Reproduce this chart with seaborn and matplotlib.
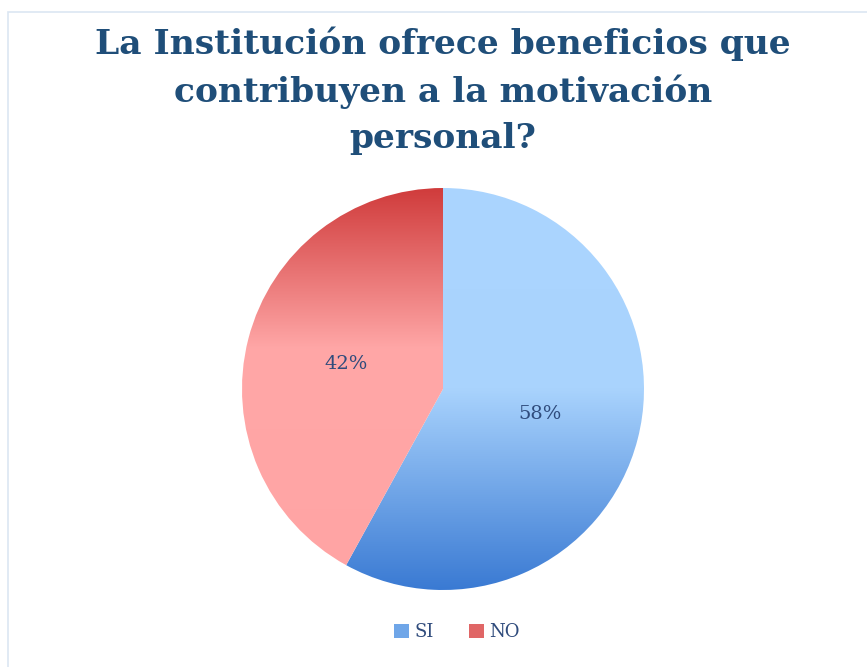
"""
Pie chart: La Institución ofrece beneficios que contribuyen a la motivación personal?
"""

import numpy as np
import matplotlib
matplotlib.use("Agg")
import matplotlib.pyplot as plt
import seaborn as sns
from matplotlib.colors import LinearSegmentedColormap
from matplotlib.patches import Patch, Rectangle

# Data
CATEGORIES = ["SI", "NO"]
VALUES     = [58, 42]

TITLE = "La Institución ofrece beneficios que\ncontribuyen a la motivación\npersonal?"

# Colours
TITLE_COLOR = "#1F4E79"
LABEL_COLOR = "#2F4B7C"
BORDER_COLOR = "#DCE6F2"

# gradient stops, top -> bottom of the pie
SI_STOPS = [(0.0, "#ABD5FF"), (0.50, "#A9D3FD"), (1.0, "#3A7AD3")]
NO_STOPS = [(0.0, "#D03C3C"), (0.40, "#FFA7A7"), (1.0, "#FFA4A4")]
LEGEND_COLORS = ["#6FA6E8", "#E06666"]

sns.set_theme(style="white")
plt.rcParams["font.family"] = ["DejaVu Serif"]

W, H = 867, 667
fig = plt.figure(figsize=(W / 100, H / 100), dpi=100)
fig.patch.set_facecolor("white")

# pie box in pixels: centre (443, 389), radius 201
cx, cy, r = 443, 389, 201
ax = fig.add_axes([(cx - r) / W, (H - cy - r) / H, 2 * r / W, 2 * r / H])

wedges, texts, autotexts = ax.pie(
    VALUES,
    labels=None,
    startangle=90,
    counterclock=False,
    autopct="%1.0f%%",
    pctdistance=0.5,
    radius=1.0,
    wedgeprops=dict(facecolor="none", edgecolor="none"),
    textprops=dict(color=LABEL_COLOR, fontsize=14),
)
ax.set_xlim(-1, 1)
ax.set_ylim(-1, 1)
ax.axis("off")

# vertical gradient fill clipped to each wedge
grad = np.linspace(0, 1, 256).reshape(-1, 1)
for wedge, stops in zip(wedges, [SI_STOPS, NO_STOPS]):
    cmap = LinearSegmentedColormap.from_list("g", stops)
    im = ax.imshow(grad, cmap=cmap, extent=(-1, 1, -1, 1), origin="upper",
                   aspect="auto", zorder=0.5, interpolation="bilinear")
    im.set_clip_path(wedge)
for t in autotexts:
    t.set_zorder(3)

# Title
fig.text(cx / W, 1 - 91 / H, TITLE, ha="center", va="center",
         fontsize=24.8, fontweight="bold", color=TITLE_COLOR,
         family=["DejaVu Serif"], linespacing=1.5)

# Legend
handles = [Patch(facecolor=c, edgecolor="none") for c in LEGEND_COLORS]
leg = fig.legend(handles, CATEGORIES, loc="center", bbox_to_anchor=(457 / W, 1 - 632 / H),
                 ncol=2, frameon=False, fontsize=13, handlelength=0.8, handleheight=0.8,
                 handletextpad=0.3, columnspacing=2.0)
for t in leg.get_texts():
    t.set_color(LABEL_COLOR)

# chart-area border (only left and top edges visible)
fig.add_artist(Rectangle((8 / W, -0.1), 1.2, 1 - 12 / H + 0.1, transform=fig.transFigure,
                         fill=False, edgecolor=BORDER_COLOR, linewidth=1.2))

fig.savefig("out.png", dpi=100)
